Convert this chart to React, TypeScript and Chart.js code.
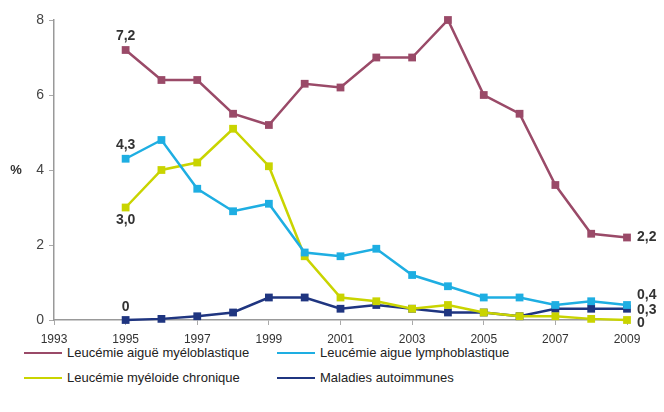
import React, { useEffect, useRef } from "react";
import { Chart, registerables } from "chart.js";

Chart.register(...registerables);

const years = [1995, 1996, 1997, 1998, 1999, 2000, 2001, 2002, 2003, 2004, 2005, 2006, 2007, 2008, 2009];
const lamValues = [7.2, 6.4, 6.4, 5.5, 5.2, 6.3, 6.2, 7.0, 7.0, 8.0, 6.0, 5.5, 3.6, 2.3, 2.2];
const lalValues = [4.3, 4.8, 3.5, 2.9, 3.1, 1.8, 1.7, 1.9, 1.2, 0.9, 0.6, 0.6, 0.4, 0.5, 0.4];
const lmcValues = [3.0, 4.0, 4.2, 5.1, 4.1, 1.7, 0.6, 0.5, 0.3, 0.4, 0.2, 0.1, 0.1, 0.03, 0.0];
const maiValues = [0.0, 0.03, 0.1, 0.2, 0.6, 0.6, 0.3, 0.4, 0.3, 0.2, 0.2, 0.1, 0.3, 0.3, 0.3];

const seriesNames = [
  "Leucémie aiguë myéloblastique",
  "Leucémie aigue lymphoblastique",
  "Leucémie myéloide chronique",
  "Maladies autoimmunes",
];
const seriesColors = ["#9a4a68", "#1eaee2", "#c9d400", "#1f3580"];

// label texts (first value / last value)
const startLabels = ["7,2", "4,3", "3,0", "0"];
const endLabels = ["2,2", "0,4", "0", "0,3"];

const FONT = "'Liberation Sans', Arial, sans-serif";

export default function App() {
  const ref = useRef<HTMLCanvasElement>(null);

  useEffect(() => {
    document.body.style.margin = "0";
    const all = [lamValues, lalValues, lmcValues, maiValues];
    const labelPlugin = {
      id: "valueLabels",
      afterDatasetsDraw(chart: any) {
        const ctx = chart.ctx;
        const x = chart.scales.x;
        const y = chart.scales.y;
        ctx.save();
        ctx.fillStyle = "#333";
        ctx.font = `bold 14px ${FONT}`;
        ctx.textAlign = "center";
        ctx.textBaseline = "middle";
        const startOff = [-14, -14, 13, -13];
        all.forEach((vals, i) => {
          ctx.fillText(startLabels[i], x.getPixelForValue(years[0]), y.getPixelForValue(vals[0]) + startOff[i]);
        });
        ctx.textAlign = "left";
        const endOff = [0, -10, 3, 1];
        all.forEach((vals, i) => {
          ctx.fillText(
            endLabels[i],
            x.getPixelForValue(years[years.length - 1]) + 10,
            y.getPixelForValue(vals[vals.length - 1]) + endOff[i]
          );
        });
        ctx.fillStyle = "#333";
        ctx.font = `bold 13px ${FONT}`;
        ctx.textAlign = "center";
        ctx.fillText("%", 16, y.getPixelForValue(4));
        ctx.restore();
      },
    };

    const chart = new Chart(ref.current!, {
      type: "line",
      data: {
        datasets: all.map((vals, i) => ({
          label: seriesNames[i],
          data: vals.map((v, j) => ({ x: years[j], y: v })),
          borderColor: seriesColors[i],
          backgroundColor: seriesColors[i],
          borderWidth: 2.5,
          pointStyle: "rect",
          pointRadius: 5.5,
          pointBorderWidth: 0,
          tension: 0,
          clip: false as any,
        })),
      },
      options: {
        animation: false,
        responsive: false,
        maintainAspectRatio: false,
        layout: { padding: { left: 0, top: 20, right: 37, bottom: 0 } },
        plugins: { legend: { display: false }, tooltip: { enabled: false } },
        scales: {
          x: {
            type: "linear",
            min: 1993,
            max: 2009,
            ticks: {
              stepSize: 2,
              color: "#333",
              font: { family: FONT, size: 12 },
              padding: 7,
              maxRotation: 0,
              callback: (v: any) => String(v),
            },
            grid: { drawOnChartArea: false, drawTicks: true, tickLength: 5, color: "#aaa" },
            border: { color: "#999", width: 1.5 },
            afterFit: (s: any) => {
              s.height = 25;
            },
          },
          y: {
            min: 0,
            max: 8,
            ticks: {
              stepSize: 2,
              color: "#444",
              font: { family: FONT, size: 14 },
              padding: 5,
            },
            grid: { drawOnChartArea: false, drawTicks: true, tickLength: 5, color: "#aaa" },
            border: { color: "#999", width: 1.5 },
            afterFit: (s: any) => {
              s.width = 54;
            },
          },
        },
      },
      plugins: [labelPlugin],
    });
    return () => chart.destroy();
  }, []);

  const legendItem = (i: number, left: number, top: number) => (
    <div
      key={i}
      style={{
        position: "absolute",
        left,
        top,
        display: "flex",
        alignItems: "center",
        fontFamily: FONT,
        fontSize: 13,
        color: "#222",
        whiteSpace: "nowrap",
      }}
    >
      <span style={{ display: "inline-block", width: 38, height: 2, background: seriesColors[i], marginRight: 5 }} />
      <span>{seriesNames[i]}</span>
    </div>
  );

  return (
    <div style={{ position: "relative", width: 664, height: 412, background: "#fff", overflow: "hidden" }}>
      <canvas ref={ref} width={664} height={345} style={{ display: "block", width: 664, height: 345 }} />
      {legendItem(0, 24, 345)}
      {legendItem(1, 277, 345)}
      {legendItem(2, 24, 370)}
      {legendItem(3, 277, 370)}
    </div>
  );
}
